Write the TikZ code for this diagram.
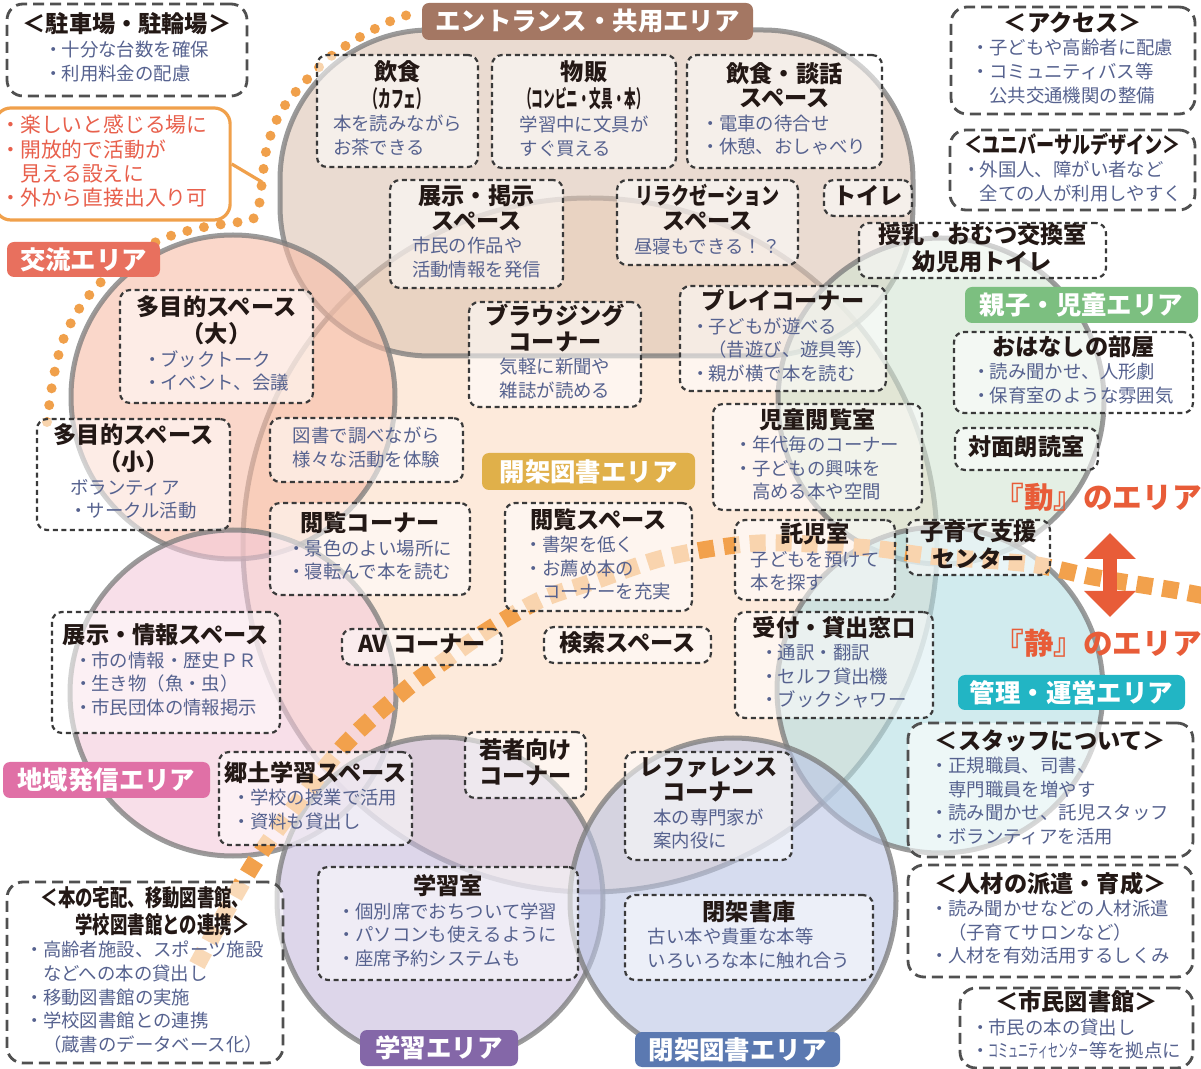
\documentclass[tikz,border=0pt]{standalone}
\usepackage{fontspec}
\setmainfont{Noto Sans CJK JP}
\usepackage{tikz}
\usetikzlibrary{shapes.geometric,arrows.meta}

\definecolor{ringgray}{HTML}{7A7A7A}
\definecolor{openfill}{HTML}{FCDCC3}
\definecolor{entrancefill}{HTML}{DCC3B2}
\definecolor{exchangefill}{HTML}{F7BCA6}
\definecolor{familyfill}{HTML}{D2E4D2}
\definecolor{officefill}{HTML}{B3DDE2}
\definecolor{regionfill}{HTML}{F3CADA}
\definecolor{studyfill}{HTML}{C6BBDC}
\definecolor{closedfill}{HTML}{BBC5E4}
\definecolor{entrancetag}{HTML}{A47763}
\definecolor{exchangetag}{HTML}{E8705E}
\definecolor{opentag}{HTML}{E0B04A}
\definecolor{familytag}{HTML}{7CBF80}
\definecolor{officetag}{HTML}{22B5C4}
\definecolor{regiontag}{HTML}{E070A6}
\definecolor{studytag}{HTML}{8467A8}
\definecolor{closedtag}{HTML}{5B79B1}
\definecolor{dotline}{HTML}{3A3A3A}
\definecolor{infoline}{HTML}{505050}
\definecolor{bodyblue}{HTML}{56628F}
\definecolor{titleink}{HTML}{231815}
\definecolor{calloutorange}{HTML}{F0A04B}
\definecolor{calloutred}{HTML}{E8604C}
\definecolor{signred}{HTML}{E85C38}
\definecolor{dashorange}{HTML}{F2A14C}

\newcommand{\ttlfont}{\fontsize{11.6pt}{11.6pt}\selectfont\bfseries}
\newcommand{\txtfont}{\fontsize{9.2pt}{11.8pt}\selectfont}
\newcommand{\tagfont}{\fontsize{12.7pt}{14pt}\selectfont\bfseries}
\newcommand{\signfont}{\fontsize{14.8pt}{16pt}\selectfont\bfseries}
\newcommand{\dotmark}{\makebox[0.9em][c]{・}}
\newcommand{\indentmark}{\hspace*{0.9em}}
\newcommand{\spottext}[2]{\begin{tabular}{@{}c@{}}{\ttlfont\begin{tabular}{@{}c@{}}#1\end{tabular}}\\{\txtfont\color{bodyblue}\begin{tabular}{@{}l@{}}#2\end{tabular}}\end{tabular}}

\tikzset{
  zonering/.style={draw=ringgray, draw opacity=0.75, line width=2.5pt, fill opacity=0.6, inner sep=0pt},
  spotbox/.style={rectangle, draw=dotline, line width=1.1pt, dash pattern=on 2.5pt off 1.8pt, rounded corners=5pt, fill=white, fill opacity=0.55, text opacity=1, text=titleink, inner sep=0pt},
  infobox/.style={spotbox, draw=infoline, line width=1.4pt, dash pattern=on 5.5pt off 3pt, rounded corners=8pt, fill opacity=0.6},
  zonetag/.style={rectangle, rounded corners=3.5pt, text=white, font=\tagfont, inner sep=0pt}
}

\newcommand{\zone}[4] {\node at (#1) (#2) [zonering, circle, fill=#4, minimum size=#3*1pt] {};}
\newcommand{\zonelabel}[6] {\node at (#1) (#2) [zonetag, fill=#5, minimum width=#3*0.5pt, minimum height=#4*0.5pt] {#6};}
\newcommand{\spot}[6] {\node at (#1) (#2) [spotbox, minimum width=#3*0.5pt, minimum height=#4*0.5pt] {\spottext{#5}{#6}};}
\newcommand{\spottitle}[5] {\node at (#1) (#2) [spotbox, minimum width=#3*0.5pt, minimum height=#4*0.5pt] {\ttlfont\begin{tabular}{@{}c@{}}#5\end{tabular}};}
\newcommand{\spotnote}[5] {\node at (#1) (#2) [spotbox, minimum width=#3*0.5pt, minimum height=#4*0.5pt] {\txtfont\color{bodyblue}\begin{tabular}{@{}l@{}}#5\end{tabular}};}
\newcommand{\info}[6] {\node at (#1) (#2) [infobox, minimum width=#3*0.5pt, minimum height=#4*0.5pt] {\spottext{#5}{#6}};}

\begin{document}
\begin{tikzpicture}[x=0.5pt, y=-0.5pt]
\useasboundingbox (0,0) rectangle (1201,1069);

% areas
\zone{590,545}{openstack}{347}{openfill}
\node at (596.5,193) (entrance) [zonering, rectangle, rounded corners=75pt, fill=entrancefill, minimum width=316.5pt, minimum height=163pt] {};
\zone{233,397}{exchange}{162}{exchangefill}
\zone{941,401}{family}{163}{familyfill}
\zone{940,690}{office}{163}{officefill}
\zone{233,693}{region}{163}{regionfill}
\zone{440,900}{learning}{163}{studyfill}
\zone{733,901}{closed}{163}{closedfill}

% boundary of the exchange area
\draw [calloutorange, line width=5pt, line cap=round, dash pattern=on 0pt off 8.5pt]
  plot [smooth, tension=0.5] coordinates {(47,422) (53,380) (62,343) (77,312) (98,285) (125,262) (160,240) (195,229) (230,223) (252,220) (259,205) (262,182) (267,147) (280,113) (300,87) (330,57) (360,37) (393,20) (418,12)};

% line between the two kinds of area
\draw [dashorange, line width=8.5pt, dash pattern=on 8pt off 5pt]
  plot [smooth, tension=0.5] coordinates {(197,965) (258,857) (340,750) (405,690) (443,662) (488,630) (540,600) (592,582) (667,557) (760,543) (870,548) (930,556) (1030,564) (1093,577) (1173,590) (1215,598)};

% entrance
\spot{397.5,111}{cafe}{161}{112}{飲食\\\scalebox{0.55}[1]{（カフェ）}}{本を読みながら\\お茶できる}
\spot{584,111.5}{shop}{184}{113}{物販\\\scalebox{0.5}[1]{（コンビニ・文具・本）}}{学習中に文具が\\すぐ買える}
\spot{784.5,111.5}{lounge}{195}{113}{飲食・談話\\スペース}{\dotmark 電車の待合せ\\\dotmark 休憩、おしゃべり}
\spot{476.5,234}{exhibit}{173}{108}{展示・掲示\\スペース}{市民の作品や\\活動情報を発信}
\spot{707.5,222.5}{relax}{181}{85}{\scalebox{0.78}[1]{リラクゼーション}\\スペース}{昼寝もできる！？}
\spottitle{868,198}{toilet}{88}{36}{トイレ}
\spottitle{982.5,250.5}{nursing}{247}{55}{授乳・おむつ交換室\\幼児用トイレ}

% exchange
\spot{216.5,346.5}{multibig}{193}{113}{多目的スペース\\（大）}{\dotmark ブックトーク\\\dotmark イベント、会議}
\spot{133.5,474.5}{multismall}{193}{111}{多目的スペース\\（小）}{ボランティア\\\dotmark サークル活動}
\spotnote{366.5,450}{research}{193}{64}{図書で調べながら\\様々な活動を体験}

% open stacks
\spot{555,354.5}{browse}{172}{105}{ブラウジング\\コーナー}{気軽に新聞や\\雑誌が読める}
\spot{370,549}{viewcorner}{200}{92}{閲覧コーナー}{\dotmark 景色のよい場所に\\\dotmark 寝転んで本を読む}
\spot{598.5,557}{viewspace}{187}{108}{閲覧スペース}{\dotmark 書架を低く\\\dotmark お薦め本の\\\indentmark コーナーを充実}
\spottitle{422,647}{avcorner}{160}{36}{AV コーナー}
\spottitle{627.5,645}{search}{167}{36}{検索スペース}
\spottitle{525.5,765}{youth}{121}{66}{若者向け\\コーナー}

% family
\spot{783,338.5}{play}{206}{105}{プレイコーナー}{\dotmark 子どもが遊べる\\\indentmark （昔遊び、遊具等）\\\dotmark 親が横で本を読む}
\spot{1073.5,372.5}{story}{239}{81}{おはなしの部屋}{\dotmark 読み聞かせ、人形劇\\\dotmark 保育室のような雰囲気}
\spot{817.5,457}{kidsread}{209}{106}{児童閲覧室}{\dotmark 年代毎のコーナー\\\dotmark 子どもの興味を\\\indentmark 高める本や空間}
\spottitle{1026.5,449}{readaloud}{143}{42}{対面朗読室}
\spot{815,560}{daycare}{160}{80}{託児室}{子どもを預けて\\本を探す}
\spottitle{978.5,547.5}{childcare}{143}{55}{子育て支援\\センター}

% office, region, study, closed
\spot{834,665}{counter}{198}{106}{受付・貸出窓口}{\dotmark 通訳・翻訳\\\dotmark セルフ貸出機\\\dotmark ブックシャワー}
\spot{166,672.5}{cityinfo}{228}{121}{展示・情報スペース}{\dotmark 市の情報・歴史ＰＲ\\\dotmark 生き物（魚・虫）\\\dotmark 市民団体の情報掲示}
\spot{315.5,798.5}{local}{193}{93}{郷土学習スペース}{\dotmark 学校の授業で活用\\\dotmark 資料も貸出し}
\spot{708.5,806}{reference}{167}{108}{レファレンス\\コーナー}{本の専門家が\\案内役に}
\spot{448,923.5}{studyroom}{260}{113}{学習室}{\dotmark 個別席でおちついて学習\\\dotmark パソコンも使えるように\\\dotmark 座席予約システムも}
\spot{749,937.5}{stacks}{248}{85}{閉架書庫}{古い本や貴重な本等\\いろいろな本に触れ合う}

% outside notes
\info{127,50}{parking}{240}{92}{＜駐車場・駐輪場＞}{\dotmark 十分な台数を確保\\\dotmark 利用料金の配慮}
\info{1073,60.5}{access}{244}{107}{＜アクセス＞}{\dotmark 子どもや高齢者に配慮\\\dotmark コミュニティバス等\\\indentmark 公共交通機関の整備}
\info{1072.5,170}{universal}{245}{80}{\scalebox{0.78}[1]{＜ユニバーサルデザイン＞}}{\dotmark 外国人、障がい者など\\\indentmark 全ての人が利用しやすく}
\info{1050.5,790}{staff}{285}{134}{＜スタッフについて＞}{\dotmark 正規職員、司書、\\\indentmark 専門職員を増やす\\\dotmark 読み聞かせ、託児スタッフ\\\dotmark ボランティアを活用}
\info{1050.5,921}{talent}{285}{112}{＜人材の派遣・育成＞}{\dotmark 読み聞かせなどの人材派遣\\\indentmark （子育てサロンなど）\\\dotmark 人材を有効活用するしくみ}
\info{1076.5,1028}{citylib}{233}{80}{＜市民図書館＞}{\dotmark 市民の本の貸出し\\\dotmark \scalebox{0.55}[1]{コミュニティセンター}等を拠点に}
\info{145,972.5}{delivery}{276}{181}{\scalebox{0.75}[1]{\begin{tabular}{@{}r@{}}＜本の宅配、移動図書館、\\学校図書館との連携＞\end{tabular}}}{\dotmark 高齢者施設、スポーツ施設\\\indentmark などへの本の貸出し\\\dotmark 移動図書館の実施\\\dotmark 学校図書館との連携\\\indentmark （蔵書のデータベース化）}

% callout
\node at (112.5,164) (fun) [rectangle, rounded corners=8pt, draw=calloutorange, line width=1.6pt, fill=white, minimum width=115.5pt, minimum height=56pt, text=calloutred, font=\fontsize{10.4pt}{12pt}\selectfont] {\begin{tabular}{@{}l@{\hspace{8pt}}}\dotmark 楽しいと感じる場に\\\dotmark 開放的で活動が\\\indentmark 見える設えに\\\dotmark 外から直接出入り可\end{tabular}};
\coordinate (fun1) at (262,182);
\draw [calloutorange, line width=1.6pt] (fun.east) -- (fun1);

% area labels
\zonelabel{587.5,21.5}{entrancelabel}{331}{37}{entrancetag}{エントランス・共用エリア}
\zonelabel{83.5,259.5}{exchangelabel}{153}{35}{exchangetag}{交流エリア}
\zonelabel{588.5,471.5}{openlabel}{213}{37}{opentag}{開架図書エリア}
\zonelabel{1081.5,305}{familylabel}{233}{36}{familytag}{親子・児童エリア}
\zonelabel{1071.5,692.5}{officelabel}{227}{35}{officetag}{管理・運営エリア}
\zonelabel{106.5,780}{regionlabel}{207}{36}{regiontag}{地域発信エリア}
\zonelabel{439,1048}{learninglabel}{158}{36}{studytag}{学習エリア}
\zonelabel{737.5,1049.5}{closedlabel}{205}{35}{closedtag}{閉架図書エリア}

% active and quiet
\node at (1098,497) (movenote) [text=signred, font=\signfont] {『動』のエリア};
\node at (1098,643) (stillnote) [text=signred, font=\signfont] {『静』のエリア};
\coordinate (movetip) at (1110,533);
\coordinate (stilltip) at (1110,617);
\draw [{Triangle[width=25pt, length=13pt]}-{Triangle[width=25pt, length=13pt]}, signred, line width=7pt] (movetip) -- (stilltip);

\end{tikzpicture}
\end{document}
